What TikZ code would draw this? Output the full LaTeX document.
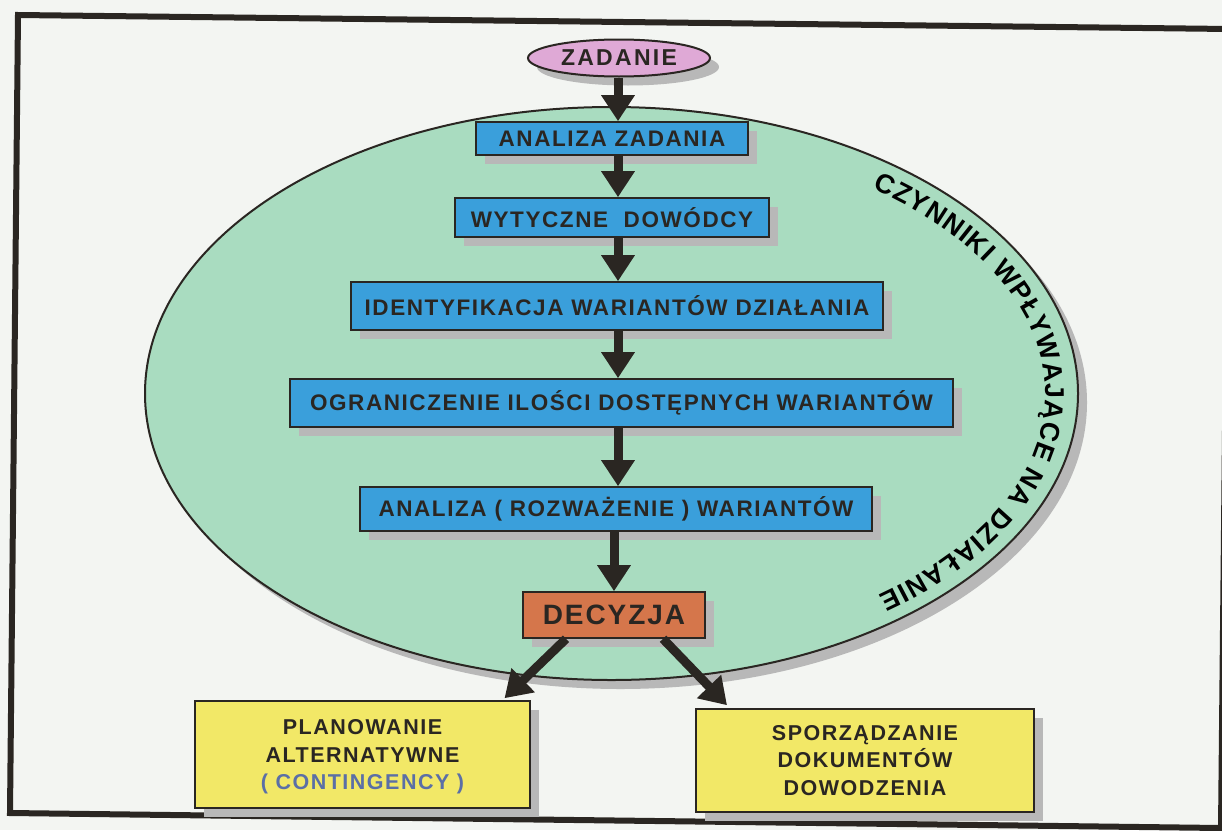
\documentclass[tikz,border=0pt]{standalone}
\usepackage{fontspec}
\setmainfont{Liberation Sans}
\newfontfamily\spaced[LetterSpace=7.0]{Liberation Sans}
\newfontfamily\wide[LetterSpace=10.0]{Liberation Sans}
\usetikzlibrary{arrows.meta,shadows,decorations.text,calc,shapes.geometric}
\definecolor{bg}{HTML}{F3F5F2}
\definecolor{ellfill}{HTML}{A9DCC0}
\definecolor{boxblue}{HTML}{3A9FDB}
\definecolor{boxyellow}{HTML}{F2E867}
\definecolor{boxorange}{HTML}{D5764B}
\definecolor{zpink}{HTML}{DFA9D6}
\definecolor{ink}{HTML}{2A2622}
\definecolor{contblue}{HTML}{5B6FA6}
\definecolor{shade}{HTML}{B8B8B8}
\tikzset{
  shd/.style={drop shadow={shadow xshift=9pt,shadow yshift=-9pt,fill=shade,opacity=1}},
  stepbox/.style={draw=ink,line width=1.6pt,fill=boxblue,inner sep=0pt,shd,
    font=\spaced\bfseries\fontsize{22.5}{22.5}\selectfont,text=ink},
  ybox/.style={draw=ink,line width=1.6pt,fill=boxyellow,inner sep=0pt,shd,align=center,
    font=\spaced\bfseries\fontsize{21.5}{27.5}\selectfont,text=ink},
  arr/.style={draw=ink,line width=9pt,-{Triangle[width=32pt,length=26pt]}}
}
\begin{document}
\begin{tikzpicture}[x=1pt,y=-1pt]
\fill[bg] (0,0) rectangle (1222,830);
\useasboundingbox (0,0) rectangle (1222,830);
\draw[ink,line width=6pt,line join=miter] (18,15) -- (1229,29) -- (1221,828) -- (10,813) -- cycle;

% big field ellipse
\node[ellipse,draw=ink,line width=2pt,fill=ellfill,minimum width=933pt,minimum height=573pt,
      inner sep=0pt,shd] (field) at (611.5,393.5) {};
\path[decorate,decoration={text along path,text align=fit to path,
   text={|\bfseries\fontsize{27}{27}\selectfont|CZYNNIKI WPŁYWAJĄCE NA DZIAŁANIE}}]
   (field.center) ++(-53:434 and 256) arc[start angle=-53,end angle=52,x radius=434,y radius=256];

\coordinate (axis) at (618,0);

\node[ellipse,draw=ink,line width=2pt,fill=zpink,minimum width=182pt,minimum height=37pt,
      inner sep=0pt,shd,font=\wide\bfseries\fontsize{23}{23}\selectfont,text=ink] (zad) at (619,58) {ZADANIE};
\node[stepbox,minimum width=272pt,minimum height=33pt] (a1) at (612,138.5) {ANALIZA ZADANIA};
\node[stepbox,minimum width=314pt,minimum height=39pt] (a2) at (612,217.5) {WYTYCZNE\ \ DOWÓDCY};
\node[stepbox,minimum width=532pt,minimum height=48pt] (a3) at (617,306) {IDENTYFIKACJA WARIANTÓW DZIAŁANIA};
\node[stepbox,minimum width=663pt,minimum height=48pt] (a4) at (621.5,403) {OGRANICZENIE ILOŚCI DOSTĘPNYCH WARIANTÓW};
\node[stepbox,minimum width=512pt,minimum height=44pt] (a5) at (616,509) {ANALIZA ( ROZWAŻENIE ) WARIANTÓW};
\node[stepbox,fill=boxorange,minimum width=182pt,minimum height=46pt,
      font=\spaced\bfseries\fontsize{28}{28}\selectfont] (dec) at (614,615) {DECYZJA};

\node[ybox,minimum width=335pt,minimum height=107pt,text depth=0pt] (plan) at (362.5,754.5)
   {PLANOWANIE\\ALTERNATYWNE\\\textcolor{contblue}{( CONTINGENCY )}};
\node[ybox,minimum width=338pt,minimum height=103pt] (spor) at (865,760.5)
   {SPORZĄDZANIE\\DOKUMENTÓW\\DOWODZENIA};

\draw[arr] (zad.south -| axis) -- (a1.north -| axis);
\draw[arr] (a1.south -| axis) -- (a2.north -| axis);
\draw[arr] (a2.south -| axis) -- (a3.north -| axis);
\draw[arr] (a3.south -| axis) -- (a4.north -| axis);
\draw[arr] (a4.south -| axis) -- (a5.north -| axis);
\draw[arr] (a5.south -| dec) -- (dec.north);
\draw[arr] ($(dec.south)+(-48,0)$) -- ($(plan.north)+(142,-2)$);
\draw[arr] ($(dec.south)+(49,0)$) -- ($(spor.north)+(-138,-3)$);
\end{tikzpicture}
\end{document}
